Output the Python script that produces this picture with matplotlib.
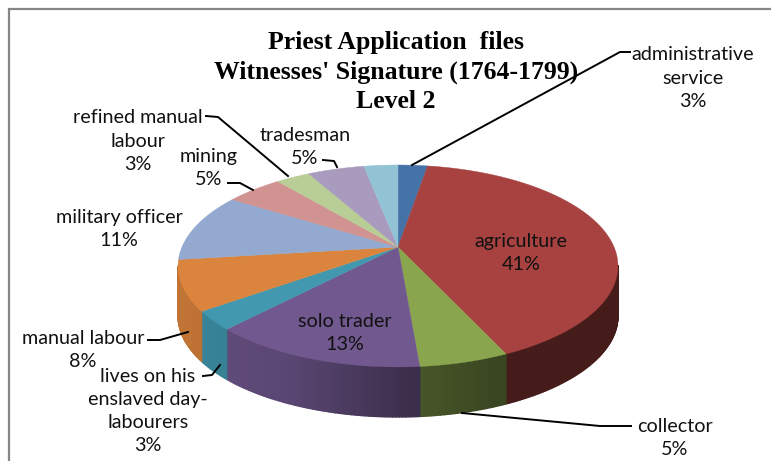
# plot.py -- priest application files, 3D looking pie drawn by hand in pixel space

import numpy as np
import matplotlib
matplotlib.use("Agg")
import matplotlib.pyplot as plt
from matplotlib.collections import PolyCollection

categories = ["administrative\nservice", "agriculture", "collector", "solo trader",
              "lives on his\nenslaved day-\nlabourers", "manual labour", "military officer",
              "mining", "refined manual\nlabour", "tradesman", ""]
values = [2.6, 40.6, 5.49, 13.3, 3, 8, 11, 5, 3, 5, 3]
colors = ["#4572A7", "#A74240", "#89A54E", "#71588F", "#4198AF", "#DB843D",
          "#93A9CF", "#D19392", "#B9CD96", "#A99BBD", "#92C3D5"]
title_lines = "Priest Application  files\nWitnesses' Signature (1764-1799)\nLevel 2"

# layout, in pixels of the 771x461 picture
label_xy = [(693, 78), (521, 253), (675, 438), (345, 333), (148, 411),
            (83, 350), (119, 229), (209, 168), (138, 141), (305, 147), None]
leaders = [[(412, 165), (620, 52), (630, 52)],
           None,
           [(462, 413), (600, 426), (631, 426)],
           None,
           [(220, 365), (212, 375), (203, 376)],
           [(188, 332), (160, 340), (148, 340)],
           None,
           [(253, 190), (240, 183), (228, 183)],
           [(288, 176), (218, 117), (206, 116)],
           [(337, 167), (334, 161), (323, 160)],
           None]

cx, cy = 398, 247      # apex of the pie
A, B, k = 216, 97.4, 0.188   # perspective of the disc
depth = 50


def project(theta):
    # angle clockwise from the top of the disc -> pixel offset from apex
    u, v = np.sin(theta), np.cos(theta)
    w = 1 + k * v
    return cx + A * u / w, cy - B * v / w


def shade(x):
    # side wall gets darker going from left to right
    return np.interp((x - cx) / 220, [-1, -0.5, 0, 0.45, 1], [0.88, 0.8, 0.55, 0.42, 0.42])


fig = plt.figure(figsize=(7.71, 4.61), dpi=100)
ax = fig.add_axes([0, 0, 1, 1])
ax.set_xlim(0, 771)
ax.set_ylim(461, 0)
ax.axis("off")

# frame, only top and left show in the crop
ax.plot([8.5, 8.5, 771], [461, 9.5, 9.5], color="#868686", lw=1.6, solid_joinstyle="miter")

edges = np.cumsum([0] + values) / sum(values) * 2 * np.pi

# side walls, only the part of the rim in front of the silhouette points
quads, quad_colors = [], []
for i in range(len(values)):
    t = np.linspace(edges[i], edges[i + 1], int(max(6, values[i] * 5)))
    x, y = project(t)
    base = np.array(matplotlib.colors.to_rgb(colors[i]))
    for j in range(len(t) - 1):
        if np.cos((t[j] + t[j + 1]) / 2) > -k:
            continue
        quads.append([(x[j], y[j]), (x[j + 1], y[j + 1]),
                      (x[j + 1], y[j + 1] + depth), (x[j], y[j] + depth)])
        quad_colors.append(base * shade((x[j] + x[j + 1]) / 2))
ax.add_collection(PolyCollection(quads, facecolors=quad_colors, edgecolors=quad_colors,
                                 linewidths=1.0, zorder=2))

# top of the pie
for i in range(len(values)):
    t = np.linspace(edges[i], edges[i + 1], int(max(6, values[i] * 5)))
    x, y = project(t)
    ax.fill(np.r_[cx, x], np.r_[cy, y], color=colors[i], lw=0.3, zorder=3)

for i, name in enumerate(categories):
    if label_xy[i] is None:
        continue
    ax.text(label_xy[i][0], label_xy[i][1], f"{name}\n{round(values[i])}%", ha="center", va="center",
            family="Lato", fontsize=14.2, linespacing=1.43, color="#111111", zorder=6)
    if leaders[i] is not None:
        lx, ly = zip(*leaders[i])
        ax.plot(lx, ly, color="black", lw=1.4, zorder=5)

ax.text(396, 72, title_lines, ha="center", va="center", family="Liberation Serif",
        fontweight="bold", fontsize=18.5, linespacing=1.36, color="black", zorder=6)

fig.savefig("out.png", dpi=100)
